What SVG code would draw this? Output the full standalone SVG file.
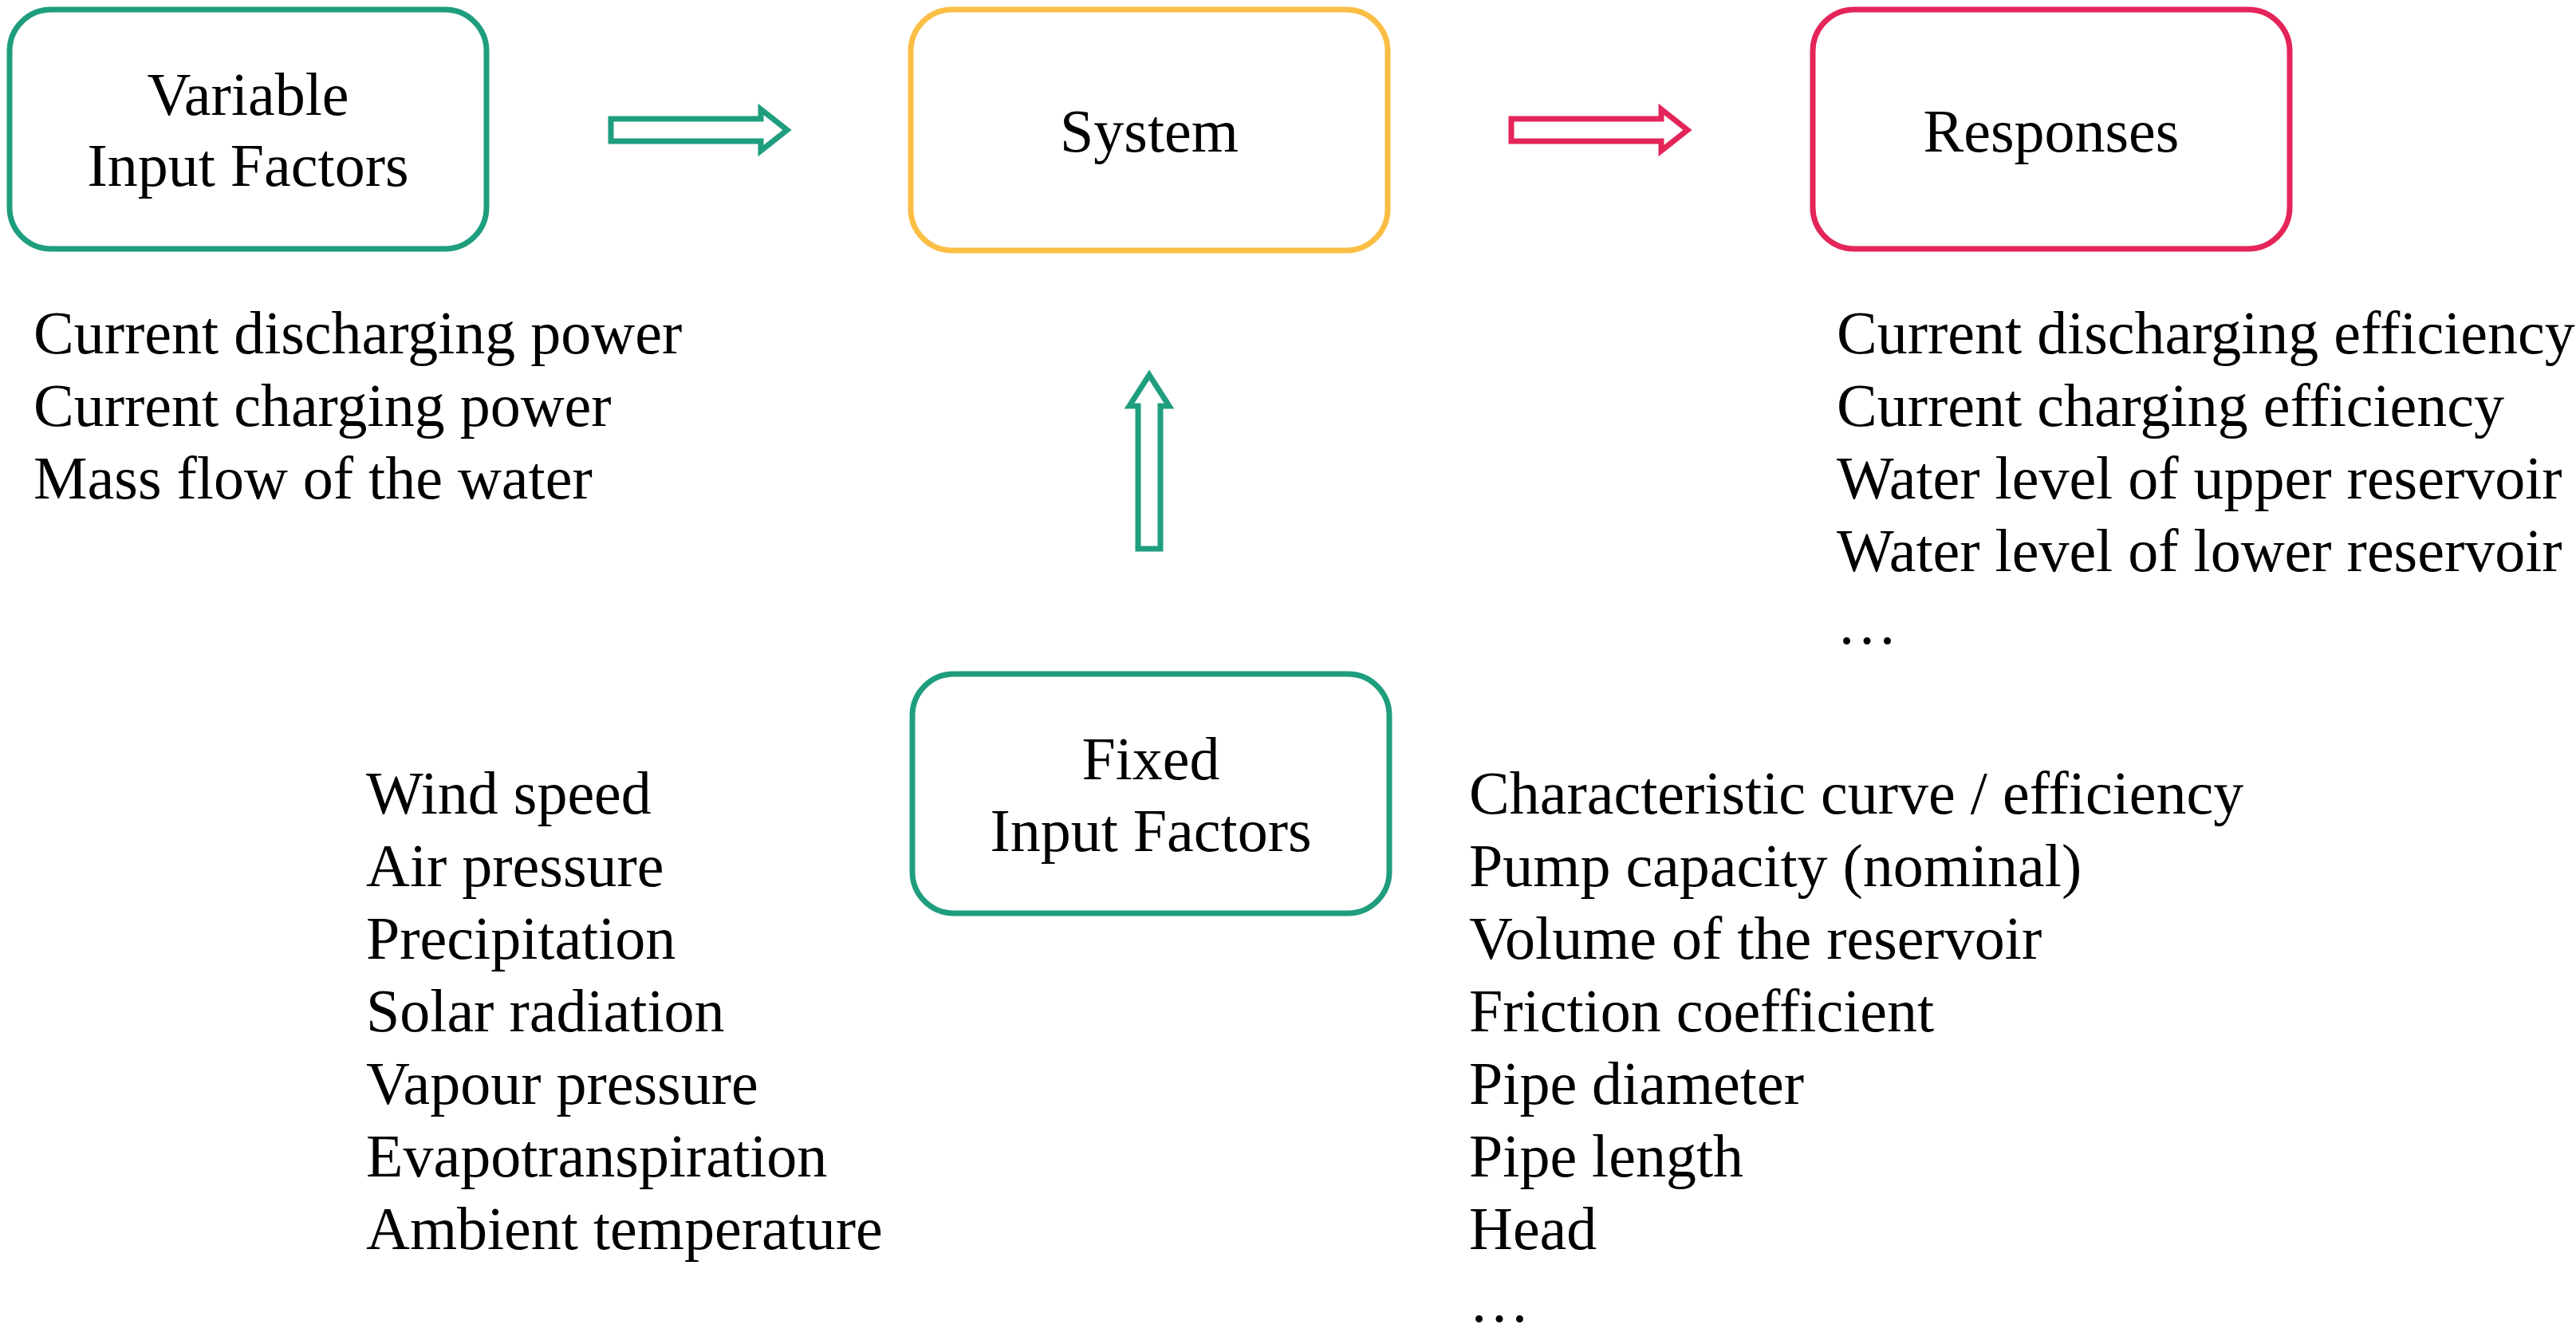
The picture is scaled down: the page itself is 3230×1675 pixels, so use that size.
<svg xmlns="http://www.w3.org/2000/svg" width="3230" height="1675" viewBox="0 0 3230 1675">
<style>
text{font-family:"Liberation Serif","Times New Roman",serif;font-size:76px;fill:#000}
.c{text-anchor:middle}
.box{fill:#fff;stroke-width:7}
.g{stroke:#1f9e7e}.y{stroke:#fbbe45}.r{stroke:#e4255a}
.ar{fill:#fff;stroke-width:7}
</style>
<rect width="3230" height="1675" fill="#fff"/>
<g id="variable"><rect class="box g" x="12" y="12" width="598" height="300" rx="52"/><text class="c" x="311" y="144">Variable</text><text class="c" x="311" y="233">Input Factors</text></g>
<g id="system"><rect class="box y" x="1142" y="12" width="598" height="302" rx="52"/><text class="c" x="1441" y="190">System</text></g>
<g id="responses"><rect class="box r" x="2273" y="12" width="598" height="300" rx="52"/><text class="c" x="2572" y="190">Responses</text></g>
<g id="fixed"><rect class="box g" x="1144" y="845" width="598" height="300" rx="52"/><text class="c" x="1443" y="977">Fixed</text><text class="c" x="1443" y="1067">Input Factors</text></g>
<g id="connectors">
<path class="ar g" d="M766 149H954V137L987 163L954 189V177H766Z"/>
<path class="ar r" d="M1895 149H2083V137L2116 163L2083 189V177H1895Z"/>
<path class="ar g" d="M1427 688V509H1416L1441 470L1466 509H1455V688Z"/>
</g>
<g id="variable-list"><text x="42" y="443">Current discharging power</text><text x="42" y="534">Current charging power</text><text x="42" y="625">Mass flow of the water</text></g>
<g id="responses-list"><text x="2303" y="443">Current discharging efficiency</text><text x="2303" y="534">Current charging efficiency</text><text x="2303" y="625">Water level of upper reservoir</text><text x="2303" y="716">Water level of lower reservoir</text><text x="2303" y="807">…</text></g>
<g id="env-list"><text x="459" y="1020">Wind speed</text><text x="459" y="1111">Air pressure</text><text x="459" y="1202">Precipitation</text><text x="459" y="1293">Solar radiation</text><text x="459" y="1384">Vapour pressure</text><text x="459" y="1475">Evapotranspiration</text><text x="459" y="1566">Ambient temperature</text></g>
<g id="tech-list"><text x="1842" y="1020">Characteristic curve / efficiency</text><text x="1842" y="1111">Pump capacity (nominal)</text><text x="1842" y="1202">Volume of the reservoir</text><text x="1842" y="1293">Friction coefficient</text><text x="1842" y="1384">Pipe diameter</text><text x="1842" y="1475">Pipe length</text><text x="1842" y="1566">Head</text><text x="1842" y="1657">…</text></g>
</svg>
